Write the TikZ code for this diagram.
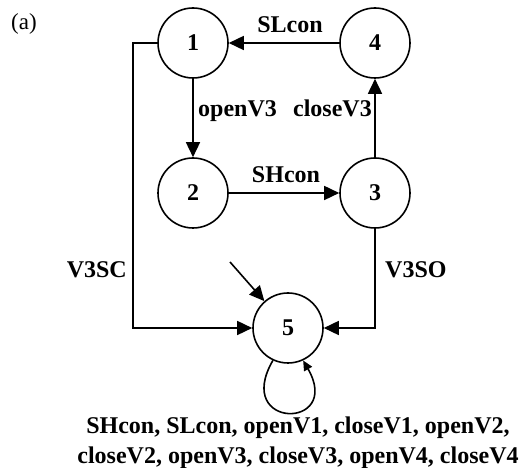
\documentclass[tikz,border=0pt]{standalone}
\usepackage{fontspec}
\setmainfont{Liberation Serif}
\usetikzlibrary{arrows.meta}
\begin{document}
\begin{tikzpicture}[x=1pt,y=1pt,
  state/.style={circle,draw,line width=1.6pt,minimum size=70pt,inner sep=0pt,font=\fontsize{24}{28}\selectfont\bfseries},
  lbl/.style={font=\fontsize{24}{30}\selectfont\bfseries,inner sep=0pt},
  conn/.style={line width=1.6pt,-{Triangle[length=15pt,width=14pt]}},
  loopconn/.style={line width=1.6pt,-{Triangle[length=10pt,width=9pt]}},
]
\useasboundingbox (0,0) rectangle (520,468);
\node[state] (n1) at (193,425) {1};
\node[state] (n4) at (375,425) {4};
\node[state] (n2) at (193,275) {2};
\node[state] (n3) at (375,275) {3};
\node[state] (n5) at (288,140) {5};
\coordinate (c1) at (133,425);
\coordinate (init) at (230,206);

\node[font=\fontsize{23}{28}\selectfont,inner sep=0pt] (tag) at (24,444) {(a)};

\draw[conn] (n4) -- (n1);
\draw[conn] (n1) -- (n2);
\draw[conn] (n2) -- (n3);
\draw[conn] (n3) -- (n4);
\draw[conn] (n1.west) -- (c1) |- (n5.west);
\draw[conn] (n3.south) |- (n5.east);
\draw[conn] (init) -- (n5);
\draw[loopconn] (n5.-115) to[out=-120,in=-60,looseness=6.8] (n5.-65);

\node[lbl,anchor=base] (lSL) at (290,435) {SLcon};
\node[lbl,anchor=base] (lSH) at (286,285) {SHcon};
\node[lbl,anchor=base west] (lo3) at (198,351) {openV3};
\node[lbl,anchor=base east] (lc3) at (372,351) {closeV3};
\node[lbl,anchor=base east] (lsc) at (127,190) {V3SC};
\node[lbl,anchor=base west] (lso) at (385,190) {V3SO};
\node[lbl,align=center] (lloop) at (298,25.5) {SHcon, SLcon, openV1, closeV1, openV2,\\ closeV2, openV3, closeV3, openV4, closeV4};
\end{tikzpicture}
\end{document}
